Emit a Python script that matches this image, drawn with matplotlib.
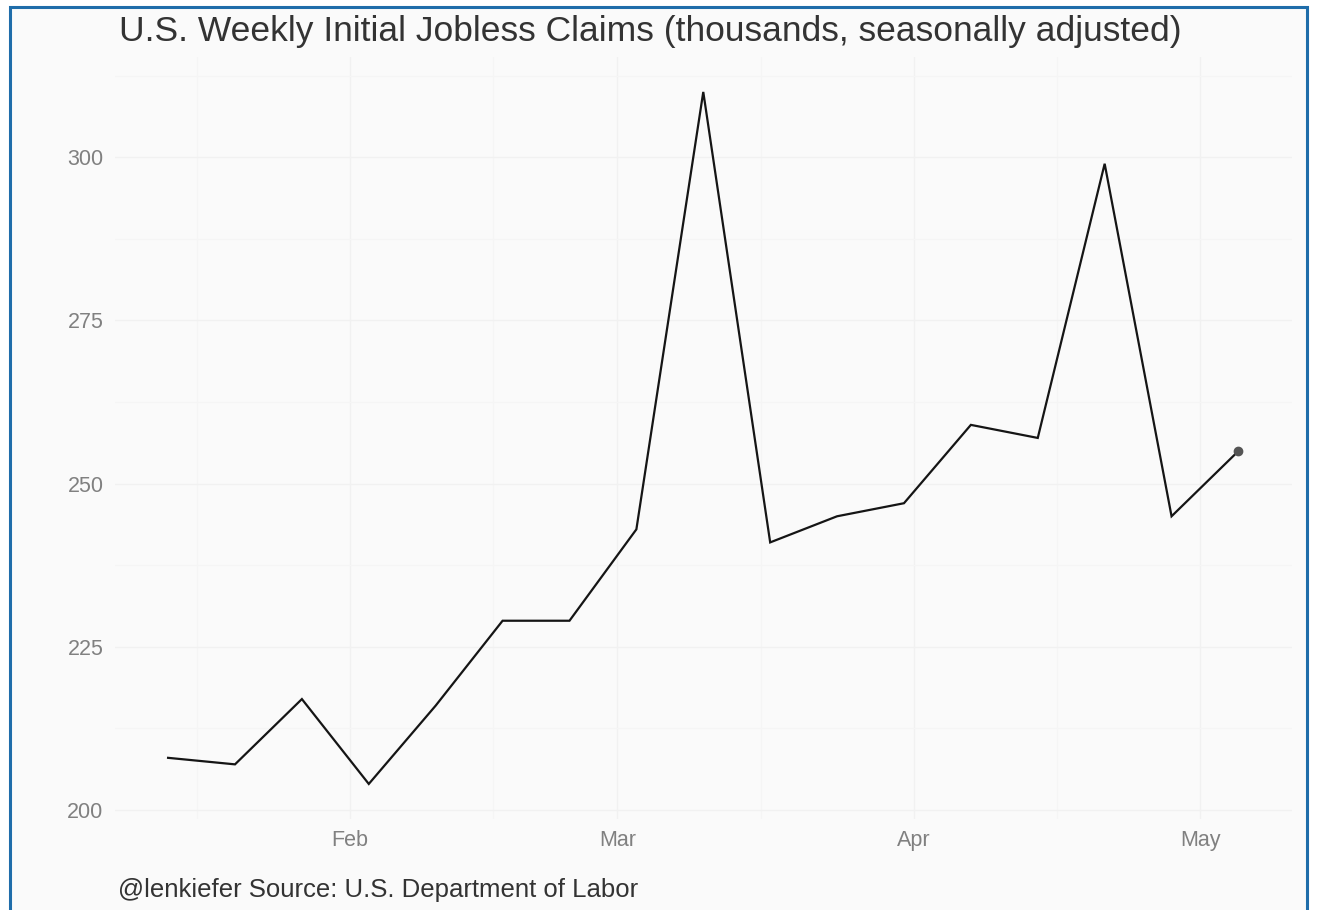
import matplotlib
matplotlib.use("Agg")
import matplotlib.pyplot as plt
import matplotlib.dates as mdates
from matplotlib.patches import Rectangle
import numpy as np
import pandas as pd

# ---- data ----
week_ending = pd.date_range("2018-01-13", periods=17, freq="7D")
claims = [208, 207, 217, 204, 216, 229, 229, 243, 310, 241, 245, 247, 259, 257, 299, 245, 255]
y_ticks = [200, 225, 250, 275, 300]
title = "U.S. Weekly Initial Jobless Claims (thousands, seasonally adjusted)"
caption = "@lenkiefer Source: U.S. Department of Labor"

plt.rcParams["font.family"] = ["Liberation Sans", "DejaVu Sans"]

fig = plt.figure(figsize=(13.17, 9.10), dpi=100, facecolor="white")

# framed panel background with blue border
frame = Rectangle((10 / 1317, -0.01), (1307 - 10) / 1317, (910 - 7) / 910 + 0.01,
                  transform=fig.transFigure, facecolor="#FAFAFA",
                  edgecolor="#1F6DAA", linewidth=2.2, zorder=-5)
fig.patches.append(frame)

ax = fig.add_axes([0.087, 0.1005, 0.894, 0.8365])
ax.set_zorder(2)
ax.patch.set_alpha(0)

ax.plot(week_ending, claims, color="#151515", linewidth=1.6, solid_joinstyle="miter")
ax.plot(week_ending[-1:], claims[-1:], "o", color="#555555", markersize=6)

ax.margins(x=0.05, y=0.05)
ax.set_yticks(y_ticks)
ax.yaxis.set_minor_locator(matplotlib.ticker.FixedLocator([212.5, 237.5, 262.5, 287.5, 312.5]))
ax.xaxis.set_major_locator(mdates.MonthLocator())
ax.xaxis.set_major_formatter(mdates.DateFormatter("%b"))
ax.xaxis.set_minor_locator(mdates.MonthLocator(bymonthday=16))

ax.grid(which="major", color="#F1F1F1", linewidth=1.0)
ax.grid(which="minor", color="#F5F5F5", linewidth=0.8)
ax.set_axisbelow(True)
for s in ax.spines.values():
    s.set_visible(False)
ax.tick_params(which="both", length=0)
ax.tick_params(axis="y", labelsize=15.5, labelcolor="#808080", pad=8)
ax.tick_params(axis="x", labelsize=15.5, labelcolor="#808080", pad=8)

fig.text(650 / 1317, 1 - 32 / 910, title, ha="center", va="center",
         fontsize=25.5, color="#333333")
fig.text(118 / 1317, 1 - 890 / 910, caption, ha="left", va="center",
         fontsize=18.5, color="#333333")

fig.savefig("out.png", dpi=100, facecolor="white")
